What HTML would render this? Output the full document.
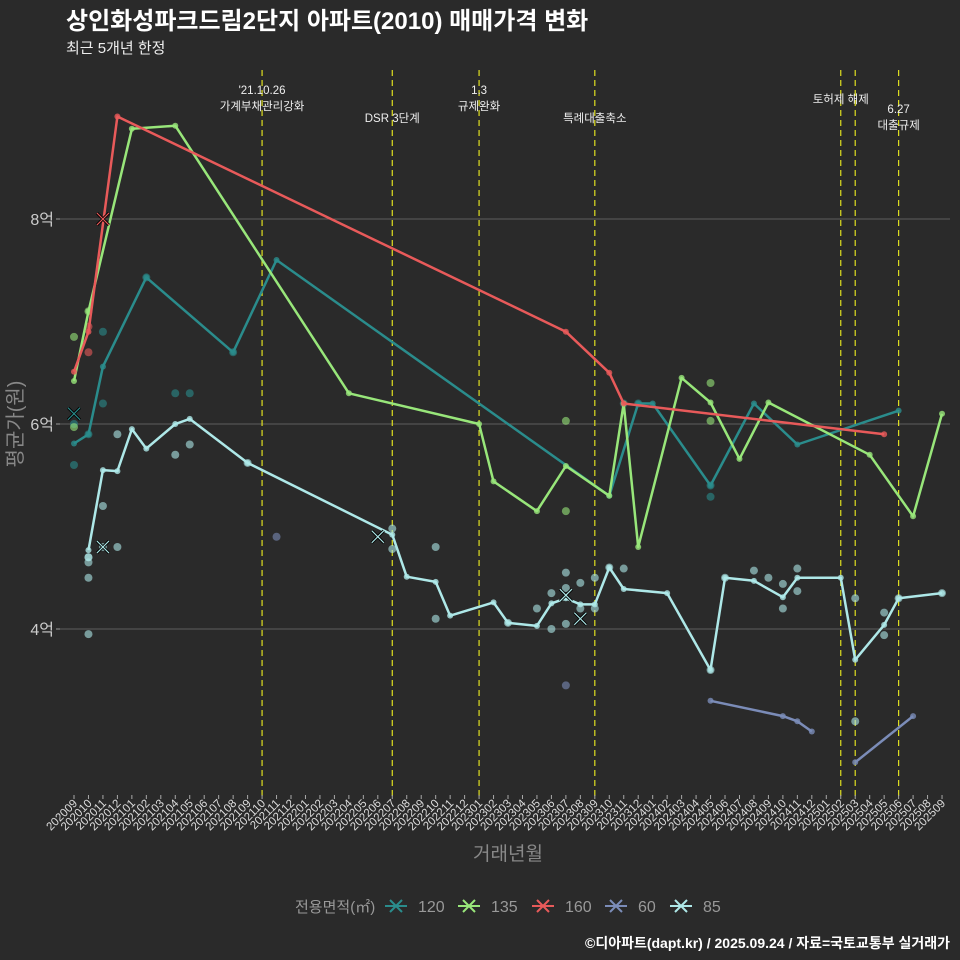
<!DOCTYPE html>
<html><head><meta charset="utf-8">
<style>
html,body{margin:0;padding:0;background:#2a2a2a;}
body{width:960px;height:960px;overflow:hidden;font-family:"Liberation Sans","Noto Sans CJK KR",sans-serif;}
svg{display:block;}
svg text{font-family:"Liberation Sans","Noto Sans CJK KR",sans-serif;}
</style></head>
<body>
<svg id="chart" width="960" height="960" viewBox="0 0 960 960" xmlns="http://www.w3.org/2000/svg">
<rect width="960" height="960" fill="#2a2a2a"/>
<text x="66" y="29" fill="#ffffff" font-size="24" font-weight="bold">상인화성파크드림2단지 아파트(2010) 매매가격 변화</text>
<text x="66" y="53" fill="#eeeeee" font-size="15">최근 5개년 한정</text>
<text transform="translate(22,424) rotate(-90)" text-anchor="middle" fill="#888" font-size="20">평균가(원)</text>
<text x="508" y="860" text-anchor="middle" fill="#888" font-size="19">거래년월</text>
<g id="grid"></g>
<g id="vlines"></g>
<g id="scatter"></g>
<g id="lines"></g>
<g id="xticks"></g>
<g id="legend"></g>
<text x="950" y="948" text-anchor="end" fill="#ffffff" font-size="14" font-weight="bold">©디아파트(dapt.kr) / 2025.09.24 / 자료=국토교통부 실거래가</text>
</svg>
<script>
const yTicks=[4,6,8];
const yTickLabels=["4억","6억","8억"];
const policyMonths=[13,22,28,36,53,54,57];
const policyLabels=[["'21.10.26","가계부채관리강화"],["DSR 3단계"],["1.3","규제완화"],["특례대출축소"],["토허제 해제"],["6.27","대출규제"]];
const policyLabelMonths=[13,22,28,36,53,57];
const policyLabelY=[90,118,90,118,99,109];
const seriesNames=["120","135","160","60","85"];
const seriesColors=["#2a8c8c","#98e67a","#e85a5a","#7b8cb8","#aee8e8"];
const s120M=[0,1,2,5,11,14,37,39,40,44,47,50,57];
const s120V=[5.81,5.9,6.56,7.43,6.7,7.6,5.3,6.2,6.2,5.4,6.2,5.8,6.13];
const s135M=[0,1,4,7,19,28,29,32,34,37,38,39,42,44,46,48,55,58,60];
const s135V=[6.42,7.1,8.88,8.91,6.3,6.0,5.44,5.15,5.59,5.3,6.2,4.8,6.45,6.21,5.66,6.21,5.7,5.1,6.1];
const s160M=[0,1,3,34,37,38,56];
const s160V=[6.51,6.9,9.0,6.9,6.5,6.2,5.9];
const s60aM=[44,49,50,51];
const s60aV=[3.3,3.15,3.1,3.0];
const s60bM=[54,58];
const s60bV=[2.7,3.15];
const s85M=[1,2,3,4,5,7,8,12,22,23,25,26,29,30,32,33,34,35,36,37,38,41,44,45,47,49,50,53,54,56,57,60];
const s85V=[4.77,5.55,5.54,5.95,5.76,6.0,6.05,5.62,4.92,4.51,4.46,4.13,4.26,4.06,4.03,4.25,4.3,4.24,4.24,4.6,4.39,4.35,3.6,4.5,4.47,4.31,4.5,4.5,3.7,4.04,4.3,4.35];
const dotsM=[0,0,2,2,1,44,44,38,39,0,0,1,34,34,44,44,1,1,1,2,3,1,1,1,1,2,3,7,8,7,8,12,22,22,25,25,30,32,33,33,34,34,34,35,35,36,36,37,38,44,45,47,48,49,49,50,50,54,56,56,57,60,14,34,54,11,5];
const dotsV=[5.6,6.0,6.9,6.2,5.9,5.29,5.4,6.2,6.2,6.85,5.97,7.1,6.03,5.15,6.4,6.03,6.7,6.95,4.7,4.8,4.8,4.65,4.7,4.5,3.95,5.2,5.9,6.3,6.3,5.7,5.8,5.62,4.98,4.78,4.8,4.1,4.06,4.2,4.35,4.0,4.55,4.4,4.05,4.45,4.2,4.5,4.2,4.6,4.59,3.6,4.5,4.57,4.5,4.44,4.2,4.59,4.37,4.3,4.16,3.94,4.3,4.35,4.9,3.45,3.1,6.7,7.43];
const dotsS=[0,0,0,0,0,0,0,0,0,1,1,1,1,1,1,1,2,2,4,4,4,4,4,4,4,4,4,0,0,4,4,4,4,4,4,4,4,4,4,4,4,4,4,4,4,4,4,4,4,4,4,4,4,4,4,4,4,4,4,4,4,4,3,3,4,0,0];
const crossM=[0,2,2,21,34,35];
const crossV=[6.1,8.0,4.8,4.9,4.33,4.1];
const crossS=[0,2,4,4,4,4];
const xLabels=[];
for(let y=2020,m=9;xLabels.length<61;){xLabels.push(y+String(m).padStart(2,'0'));m++;if(m>12){m=1;y++;}}

const X=i=>74+i*14.467;
const Y=v=>629-(v-4)*102.5;
const NS="http://www.w3.org/2000/svg";
function mk(tag,attrs,parent){const e=document.createElementNS(NS,tag);for(const k in attrs)e.setAttribute(k,attrs[k]);parent.appendChild(e);return e;}
const grid=document.getElementById('grid');
yTicks.forEach((v,i)=>{
 const l=mk('line',{x1:60,x2:950,y1:Y(v),y2:Y(v),stroke:'#5e5e5e','stroke-width':1},grid);
 
 
 const t=mk('line',{x1:56,x2:60,y1:Y(v),y2:Y(v),stroke:'#999'},grid);
 
 
 const tx=mk('text',{x:54,y:Y(v)+6,'text-anchor':'end',fill:'#cccccc','font-size':16},grid);
 tx.textContent=yTickLabels[i];
 
 
});
const vl=document.getElementById('vlines');
policyMonths.forEach(m=>{
 const l=mk('line',{x1:X(m),x2:X(m),y1:70,y2:797,stroke:'#e0e020','stroke-width':1.2,'stroke-dasharray':'6,4'},vl);
 
 
});
policyLabels.forEach((lines,i)=>{
 lines.forEach((s,j)=>{
  const t=mk('text',{x:X(policyLabelMonths[i]),y:policyLabelY[i]+j*16+4,'text-anchor':'middle',fill:'#eeeeee','font-size':11.5},vl);
  t.textContent=s;
  
  
 });
});
const sc=document.getElementById('scatter');
dotsM.forEach((m,i)=>{
 const c=mk('circle',{cx:X(m),cy:Y(dotsV[i]),r:4,fill:seriesColors[dotsS[i]],'fill-opacity':0.6},sc);
 
 
});
const ln=document.getElementById('lines');
function drawLine(M,V,color,name){
 const d=M.map((m,i)=>(i?'L':'M')+X(m).toFixed(1)+','+Y(V[i]).toFixed(1)).join('');
 const p=mk('path',{d:d,fill:'none',stroke:color,'stroke-width':2.5,'stroke-linejoin':'round'},ln);
 
 
 M.forEach((m,i)=>{const c=mk('circle',{cx:X(m),cy:Y(V[i]),r:3,fill:color,'fill-opacity':0.8},ln);
  
  });
}
drawLine(s120M,s120V,seriesColors[0],'120');
drawLine(s135M,s135V,seriesColors[1],'135');
drawLine(s160M,s160V,seriesColors[2],'160');
drawLine(s60aM,s60aV,seriesColors[3],'60');
drawLine(s60bM,s60bV,seriesColors[3],'60');
drawLine(s85M,s85V,seriesColors[4],'85');
crossM.forEach((m,i)=>{
 const x=X(m),y=Y(crossV[i]);
 const g=mk('g',{},ln);
 
 
 mk('path',{d:`M${x-6},${y-6}L${x+6},${y+6}M${x-6},${y+6}L${x+6},${y-6}`,stroke:'#000','stroke-width':3},g);
 mk('path',{d:`M${x-6},${y-6}L${x+6},${y+6}M${x-6},${y+6}L${x+6},${y-6}`,stroke:seriesColors[crossS[i]],'stroke-width':1.2},g);
});
const xt=document.getElementById('xticks');
xLabels.forEach((s,i)=>{
 const t=mk('line',{x1:X(i),x2:X(i),y1:795,y2:799,stroke:'#aaa'},xt);
 
 
 const tx=mk('text',{transform:`translate(${X(i)+4},${804}) rotate(-45)`,'text-anchor':'end',fill:'#dddddd','font-size':11.5},xt);
 tx.textContent=s;
 
 
});
const lg=document.getElementById('legend');
const lt=mk('text',{x:295,y:912,fill:'#999','font-size':15},lg);
lt.textContent='전용면적(㎡)';


const lx=[385,458,532,605,670];
seriesNames.forEach((n,i)=>{
 const g=mk('g',{},lg);
 
 
 const x=lx[i],y=906;
 mk('path',{d:`M${x},${y}H${x+22}M${x+5},${y-6}L${x+17},${y+6}M${x+5},${y+6}L${x+17},${y-6}`,stroke:seriesColors[i],'stroke-width':2},g);
 const t=mk('text',{x:x+33,y:912,fill:'#999','font-size':16},g);
 t.textContent=n;
});
</script>
</body></html>
